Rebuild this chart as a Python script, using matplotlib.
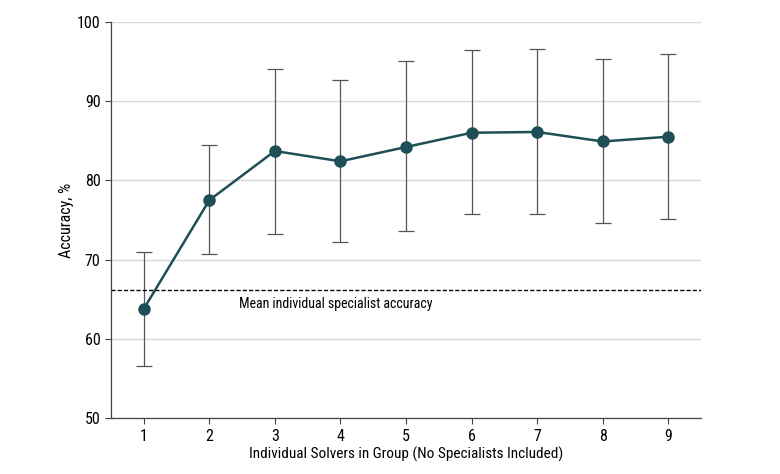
import numpy as np
import matplotlib.pyplot as plt
from matplotlib import font_manager

# Data
solvers = [1, 2, 3, 4, 5, 6, 7, 8, 9]
accuracy = [63.8, 77.5, 83.7, 82.4, 84.2, 86.0, 86.1, 84.9, 85.5]
ci_low = [56.6, 70.7, 73.2, 72.2, 73.6, 75.7, 75.7, 74.6, 75.1]
ci_high = [71.0, 84.5, 94.1, 92.7, 95.0, 96.4, 96.5, 95.3, 95.9]
specialist_mean = 66.2
specialist_label = 'Mean individual specialist accuracy'

# Pick a narrow-ish font if one is around
names = {f.name for f in font_manager.fontManager.ttflist}
for fam in ['Roboto Condensed', 'Liberation Sans Narrow', 'Open Sans', 'DejaVu Sans']:
    if fam in names:
        plt.rcParams['font.family'] = fam
        break

line_color = '#1f4f56'
err_color = '#555555'

fig = plt.figure(figsize=(7.8, 4.74), dpi=100)
ax = fig.add_axes([0.1423, 0.1175, 0.7564, 0.8367])

acc = np.array(accuracy)
yerr = [acc - np.array(ci_low), np.array(ci_high) - acc]
ax.errorbar(solvers, acc, yerr=yerr, fmt='none', ecolor=err_color,
            elinewidth=0.9, capsize=6, capthick=0.9, zorder=2)
ax.plot(solvers, acc, color=line_color, linewidth=1.8, marker='o',
        markersize=8, zorder=3)

ax.axhline(specialist_mean, color='black', linestyle=(0, (3, 1.5)),
           linewidth=1.0, zorder=2)
ax.text(2.45, specialist_mean - 0.9, specialist_label, fontsize=10,
        va='top', ha='left')

ax.set_xlim(0.5, 9.5)
ax.set_ylim(50, 100)
ax.set_xticks(solvers)
ax.set_yticks([50, 60, 70, 80, 90, 100])
ax.yaxis.grid(True, color='#d9d9d9', linewidth=1.0)
ax.set_axisbelow(True)

for s in ['top', 'right']:
    ax.spines[s].set_visible(False)
for s in ['left', 'bottom']:
    ax.spines[s].set_color('#444444')
    ax.spines[s].set_linewidth(0.9)

ax.tick_params(axis='both', labelsize=11.5, color='#444444', length=4)
ax.set_xlabel('Individual Solvers in Group (No Specialists Included)',
              fontsize=11, labelpad=2)
ax.set_ylabel('Accuracy, %', fontsize=11.5, labelpad=2)

fig.savefig('out.png', dpi=100)
